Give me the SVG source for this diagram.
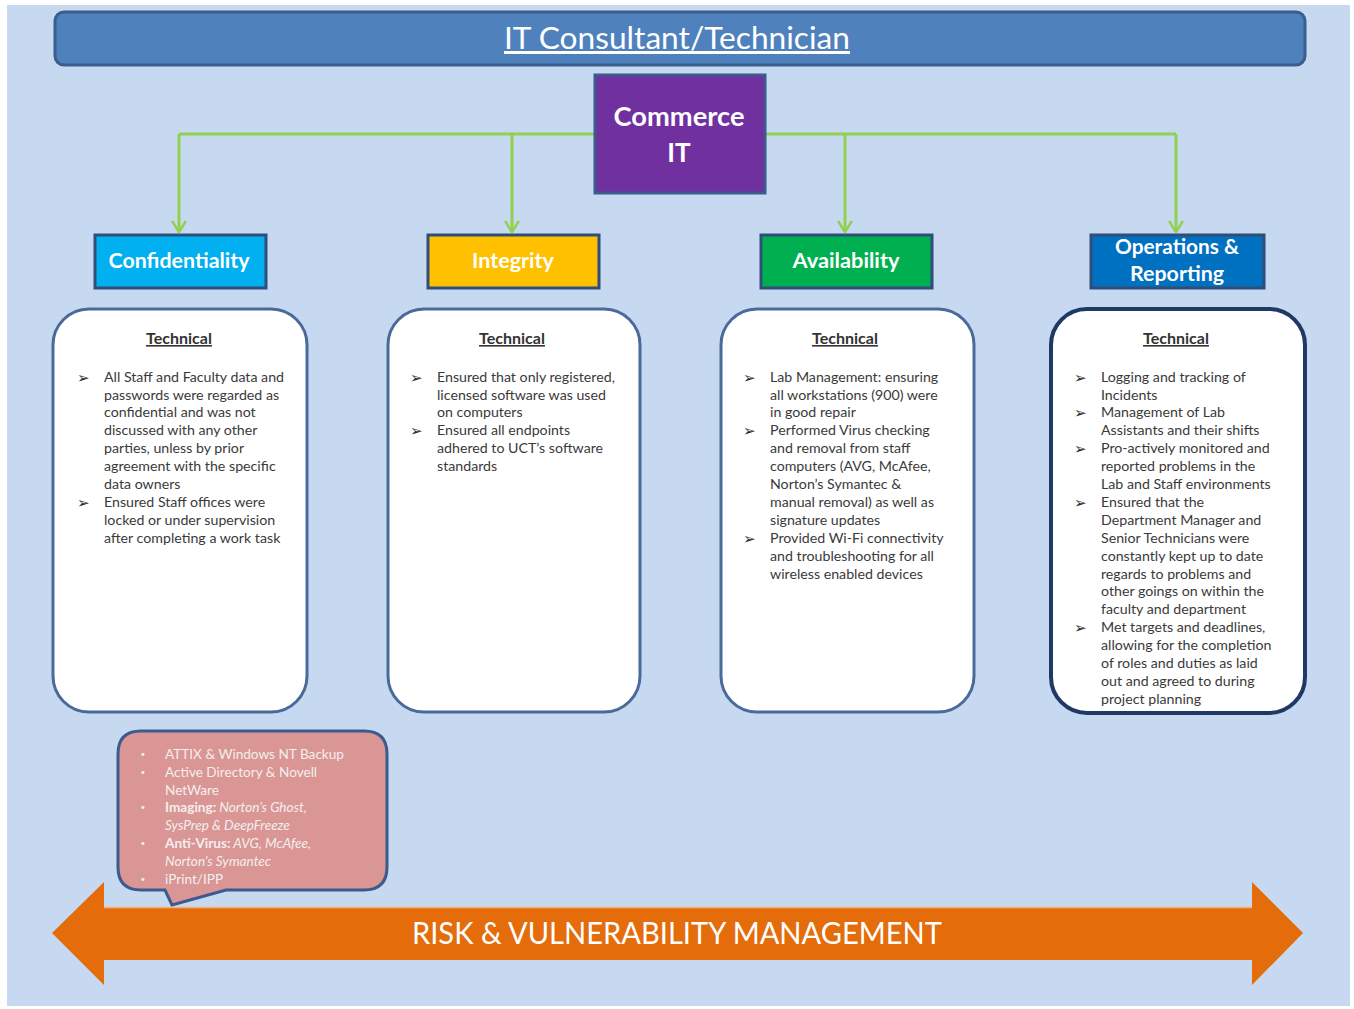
<svg xmlns="http://www.w3.org/2000/svg" width="1354" height="1009" viewBox="0 0 1354 1009">
<defs>
<style>
.t{font-family:Lato,"Open Sans","Liberation Sans",sans-serif;}
.body{font-family:Lato,"Open Sans","Liberation Sans",sans-serif;font-size:14.2px;fill:#3a3a3a;}
.bul{font-family:"DejaVu Sans",sans-serif;font-size:15px;fill:#2a2a2a;}
.cat{font-family:Lato,"Open Sans","Liberation Sans",sans-serif;font-size:20px;font-weight:bold;fill:#ffffff;text-anchor:middle;}
.catbox{stroke:#2f4f7a;stroke-width:3;}
.card{fill:#ffffff;stroke:#4a6a99;stroke-width:3;}
.tech{font-family:Lato,"Open Sans","Liberation Sans",sans-serif;font-size:16px;font-weight:bold;fill:#333333;text-anchor:middle;text-decoration:underline;}
.conn{fill:none;stroke:#92d050;stroke-width:3;}
.cw{font-family:Lato,"Open Sans","Liberation Sans",sans-serif;font-size:13.6px;fill:#f4eeee;}
.cb{font-family:"DejaVu Sans",sans-serif;font-size:10px;fill:#f4eeee;}
</style>
<marker id="chev" viewBox="0 0 13 16" refX="12" refY="8" markerWidth="13" markerHeight="16" markerUnits="userSpaceOnUse" orient="auto">
<polyline points="1,1 12,8 1,15" fill="none" stroke="#92d050" stroke-width="2.5"/>
</marker>
</defs>
<rect x="0" y="0" width="1354" height="1009" fill="#ffffff"/>
<rect x="7" y="5" width="1343" height="1001" fill="#c6d9f0"/>

<g id="title">
<rect x="55" y="12" width="1250" height="53" rx="9" fill="#4f81bd" stroke="#3a5f8f" stroke-width="3"/>
<text class="t" x="677" y="49" font-size="30" fill="#ffffff" text-anchor="middle" text-decoration="underline" textLength="346" lengthAdjust="spacingAndGlyphs">IT Consultant/Technician</text>
</g>

<g id="connectors">
<path class="conn" d="M179 134 H1176"/>
<path class="conn" d="M179 134 V232" marker-end="url(#chev)"/>
<path class="conn" d="M512 134 V232" marker-end="url(#chev)"/>
<path class="conn" d="M845 134 V232" marker-end="url(#chev)"/>
<path class="conn" d="M1176 134 V232" marker-end="url(#chev)"/>
</g>

<g id="commerce-it">
<rect x="595" y="75" width="170" height="118" fill="#7030a0" stroke="#3d5a8c" stroke-width="3"/>
<text class="t" x="679" y="126" font-size="26" font-weight="bold" fill="#ffffff" text-anchor="middle" textLength="131" lengthAdjust="spacingAndGlyphs">Commerce</text>
<text class="t" x="679" y="162" font-size="26" font-weight="bold" fill="#ffffff" text-anchor="middle">IT</text>
</g>

<g id="confidentiality">
<rect class="catbox" x="95" y="235" width="171" height="53" fill="#00b0f0"/>
<text class="cat" x="179" y="268" textLength="141" lengthAdjust="spacingAndGlyphs">Confidentiality</text>
</g>
<g id="integrity">
<rect class="catbox" x="428" y="235" width="171" height="53" fill="#ffc000"/>
<text class="cat" x="513" y="268" textLength="82" lengthAdjust="spacingAndGlyphs">Integrity</text>
</g>
<g id="availability">
<rect class="catbox" x="761" y="235" width="171" height="53" fill="#00b050"/>
<text class="cat" x="846" y="268" textLength="107" lengthAdjust="spacingAndGlyphs">Availability</text>
</g>
<g id="operations-reporting">
<rect class="catbox" x="1091" y="235" width="173" height="53" fill="#0070c0"/>
<text class="cat" x="1177" y="254" textLength="124" lengthAdjust="spacingAndGlyphs">Operations &amp;</text>
<text class="cat" x="1177" y="281" textLength="94" lengthAdjust="spacingAndGlyphs">Reporting</text>
</g>

<g id="card-confidentiality">
<rect class="card" x="53" y="309" width="254" height="403" rx="36"/>
<text class="tech" x="179" y="344">Technical</text>
<text class="bul" x="77" y="383">➢</text>
<text class="bul" x="77" y="508">➢</text>
<text class="body">
<tspan x="104" y="382">All Staff and Faculty data and</tspan>
<tspan x="104" y="400">passwords were regarded as</tspan>
<tspan x="104" y="417">confidential and was not</tspan>
<tspan x="104" y="435">discussed with any other</tspan>
<tspan x="104" y="453">parties, unless by prior</tspan>
<tspan x="104" y="471">agreement with the specific</tspan>
<tspan x="104" y="489">data owners</tspan>
<tspan x="104" y="507">Ensured Staff offices were</tspan>
<tspan x="104" y="525">locked or under supervision</tspan>
<tspan x="104" y="543">after completing a work task</tspan>
</text>
</g>

<g id="card-integrity">
<rect class="card" x="388" y="309" width="252" height="403" rx="36"/>
<text class="tech" x="512" y="344">Technical</text>
<text class="bul" x="410" y="383">➢</text>
<text class="bul" x="410" y="436">➢</text>
<text class="body">
<tspan x="437" y="382">Ensured that only registered,</tspan>
<tspan x="437" y="400">licensed software was used</tspan>
<tspan x="437" y="417">on computers</tspan>
<tspan x="437" y="435">Ensured all endpoints</tspan>
<tspan x="437" y="453">adhered to UCT’s software</tspan>
<tspan x="437" y="471">standards</tspan>
</text>
</g>

<g id="card-availability">
<rect class="card" x="721" y="309" width="253" height="403" rx="36"/>
<text class="tech" x="845" y="344">Technical</text>
<text class="bul" x="743" y="383">➢</text>
<text class="bul" x="743" y="436">➢</text>
<text class="bul" x="743" y="544">➢</text>
<text class="body">
<tspan x="770" y="382">Lab Management: ensuring</tspan>
<tspan x="770" y="400">all workstations (900) were</tspan>
<tspan x="770" y="417">in good repair</tspan>
<tspan x="770" y="435">Performed Virus checking</tspan>
<tspan x="770" y="453">and removal from staff</tspan>
<tspan x="770" y="471">computers (AVG, McAfee,</tspan>
<tspan x="770" y="489">Norton’s Symantec &amp;</tspan>
<tspan x="770" y="507">manual removal) as well as</tspan>
<tspan x="770" y="525">signature updates</tspan>
<tspan x="770" y="543">Provided Wi-Fi connectivity</tspan>
<tspan x="770" y="561">and troubleshooting for all</tspan>
<tspan x="770" y="579">wireless enabled devices</tspan>
</text>
</g>

<g id="card-operations">
<rect x="1051" y="309" width="254" height="404" rx="36" fill="#ffffff" stroke="#1f3864" stroke-width="4"/>
<text class="tech" x="1176" y="344">Technical</text>
<text class="bul" x="1074" y="383">➢</text>
<text class="bul" x="1074" y="418">➢</text>
<text class="bul" x="1074" y="454">➢</text>
<text class="bul" x="1074" y="508">➢</text>
<text class="bul" x="1074" y="633">➢</text>
<text class="body">
<tspan x="1101" y="382">Logging and tracking of</tspan>
<tspan x="1101" y="400">Incidents</tspan>
<tspan x="1101" y="417">Management of Lab</tspan>
<tspan x="1101" y="435">Assistants and their shifts</tspan>
<tspan x="1101" y="453">Pro-actively monitored and</tspan>
<tspan x="1101" y="471">reported problems in the</tspan>
<tspan x="1101" y="489">Lab and Staff environments</tspan>
<tspan x="1101" y="507">Ensured that the</tspan>
<tspan x="1101" y="525">Department Manager and</tspan>
<tspan x="1101" y="543">Senior Technicians were</tspan>
<tspan x="1101" y="561">constantly kept up to date</tspan>
<tspan x="1101" y="579">regards to problems and</tspan>
<tspan x="1101" y="596">other goings on within the</tspan>
<tspan x="1101" y="614">faculty and department</tspan>
<tspan x="1101" y="632">Met targets and deadlines,</tspan>
<tspan x="1101" y="650">allowing for the completion</tspan>
<tspan x="1101" y="668">of roles and duties as laid</tspan>
<tspan x="1101" y="686">out and agreed to during</tspan>
<tspan x="1101" y="704">project planning</tspan>
</text>
</g>

<g id="risk-arrow">
<path d="M52 933 L104 882 V907 H1252 V882 L1303 933 L1252 985 V960 H104 V985 Z" fill="#e46c0a"/>
<path d="M104 907.5 H1252" stroke="#f2b27a" stroke-width="1.5"/>
<text class="t" x="677" y="944" font-size="30" fill="#ffffff" text-anchor="middle" textLength="530" lengthAdjust="spacingAndGlyphs">RISK &amp; VULNERABILITY MANAGEMENT</text>
</g>

<g id="tools-callout">
<path d="M141 731 H364 Q387 731 387 754 V867 Q387 890 364 890 H226 L172 905 L165 890 H141 Q118 890 118 867 V754 Q118 731 141 731 Z" fill="#d99694" stroke="#3d5a8c" stroke-width="3"/>
<text class="cb" x="140" y="758">•</text>
<text class="cb" x="140" y="776">•</text>
<text class="cb" x="140" y="811">•</text>
<text class="cb" x="140" y="847">•</text>
<text class="cb" x="140" y="883">•</text>
<text class="cw">
<tspan x="165" y="759">ATTIX &amp; Windows NT Backup</tspan>
<tspan x="165" y="777">Active Directory &amp; Novell</tspan>
<tspan x="165" y="795">NetWare</tspan>
<tspan x="165" y="812"><tspan font-weight="bold">Imaging:</tspan><tspan font-style="italic"> Norton’s Ghost,</tspan></tspan>
<tspan x="165" y="830" font-style="italic">SysPrep &amp; DeepFreeze</tspan>
<tspan x="165" y="848"><tspan font-weight="bold">Anti-Virus:</tspan><tspan font-style="italic"> AVG, McAfee,</tspan></tspan>
<tspan x="165" y="866" font-style="italic">Norton’s Symantec</tspan>
<tspan x="165" y="884">iPrint/IPP</tspan>
</text>
</g>
</svg>
